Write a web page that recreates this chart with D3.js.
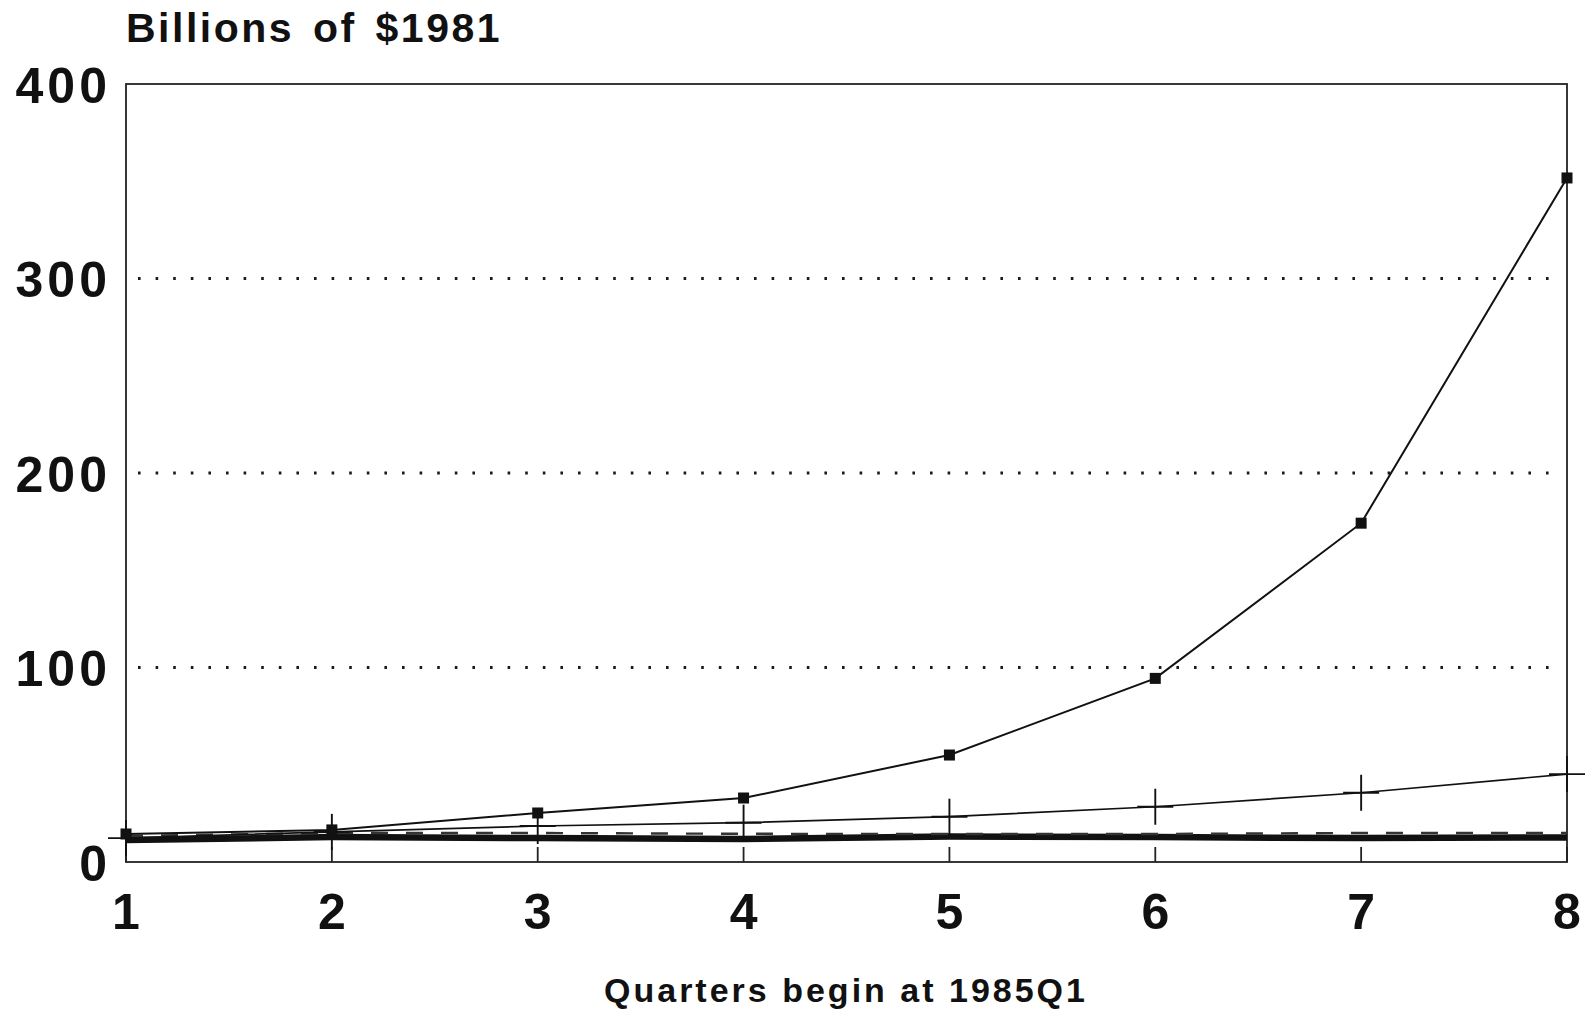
<!DOCTYPE html>
<html>
<head>
<meta charset="utf-8">
<script src="https://cdn.jsdelivr.net/npm/d3@7"></script>
<style>
  html, body { margin: 0; padding: 0; background: #fff; }
  svg { display: block; }
  text { font-family: "Liberation Sans", Arial, Helvetica, sans-serif; font-weight: bold; fill: #111; }
</style>
</head>
<body>
<svg id="chart" width="1590" height="1013"></svg>
<script>
// Quarters counted from 1985Q1
const quarters = [1, 2, 3, 4, 5, 6, 7, 8];

// Billions of 1981 dollars, one array per series
const seriesSquares = [14.4, 16.5, 25.2, 32.9, 55.0, 94.4, 174.2, 351.7];
const seriesCross   = [12.3, 15.5, 18.5, 20.2, 23.3, 28.4, 35.6, 45.2];
const seriesThick   = [11.3, 12.8, 12.3, 11.8, 13.1, 12.8, 12.3, 12.6];
const seriesDashed  = [13.4, 14.9, 14.9, 14.5, 14.4, 14.4, 14.9, 15.0];

const yTickValues = [0, 100, 200, 300, 400];
const gridValues  = [100, 200, 300];

const yTitle = "Billions of $1981";
const xTitle = "Quarters begin at 1985Q1";

const svg = d3.select("#chart");
const plotLeft = 126, plotRight = 1567, plotTop = 84, plotBottom = 862;

const x = d3.scaleLinear().domain([1, 8]).range([plotLeft, plotRight]);
const y = d3.scaleLinear().domain([0, 400]).range([plotBottom, plotTop]);

const pts = vals => quarters.map((q, i) => [q, vals[i]]);
const line = d3.line().x(d => x(d[0])).y(d => y(d[1]));

// dotted horizontal grid
svg.append("g").selectAll("line").data(gridValues).join("line")
  .attr("x1", plotLeft + 12).attr("x2", plotRight - 6)
  .attr("y1", d => y(d)).attr("y2", d => y(d))
  .attr("stroke", "#1a1a1a").attr("stroke-width", 2.8)
  .attr("stroke-dasharray", "2.6 15");

// plot frame
svg.append("rect")
  .attr("x", plotLeft).attr("y", plotTop)
  .attr("width", plotRight - plotLeft).attr("height", plotBottom - plotTop)
  .attr("fill", "none").attr("stroke", "#222").attr("stroke-width", 1.8);

// x ticks rising from the bottom edge
svg.append("g").selectAll("line").data(quarters).join("line")
  .attr("x1", d => x(d)).attr("x2", d => x(d))
  .attr("y1", plotBottom).attr("y2", plotBottom - 15)
  .attr("stroke", "#222").attr("stroke-width", 1.8);

// series lines
svg.append("path").attr("d", line(pts(seriesThick)))
  .attr("fill", "none").attr("stroke", "#111").attr("stroke-width", 6.5);

svg.append("path").attr("d", line(pts(seriesDashed)))
  .attr("fill", "none").attr("stroke", "#333").attr("stroke-width", 2.4)
  .attr("stroke-dasharray", "17 18");

svg.append("path").attr("d", line(pts(seriesCross)))
  .attr("fill", "none").attr("stroke", "#111").attr("stroke-width", 1.7);

svg.append("path").attr("d", line(pts(seriesSquares)))
  .attr("fill", "none").attr("stroke", "#111").attr("stroke-width", 2);

// "+" markers
const cross = svg.append("g").attr("stroke", "#111").attr("stroke-width", 1.9);
cross.selectAll("line.v").data(pts(seriesCross)).join("line").attr("class", "v")
  .attr("x1", d => x(d[0])).attr("x2", d => x(d[0]))
  .attr("y1", d => y(d[1]) - 18).attr("y2", d => y(d[1]) + 18);
cross.selectAll("line.h").data(pts(seriesCross)).join("line").attr("class", "h")
  .attr("x1", d => x(d[0]) - 18).attr("x2", d => x(d[0]) + 18)
  .attr("y1", d => y(d[1])).attr("y2", d => y(d[1]));

// square markers
svg.append("g").selectAll("rect").data(pts(seriesSquares)).join("rect")
  .attr("x", d => x(d[0]) - 5.5).attr("y", d => y(d[1]) - 5.5)
  .attr("width", 11).attr("height", 11).attr("fill", "#111");

// y tick labels
svg.append("g").selectAll("text").data(yTickValues).join("text")
  .attr("x", 111).attr("y", d => y(d) + 18.5)
  .attr("text-anchor", "end")
  .attr("font-size", 50).attr("letter-spacing", 4)
  .text(d => d);

// x tick labels
svg.append("g").selectAll("text").data(quarters).join("text")
  .attr("x", d => x(d)).attr("y", 929)
  .attr("text-anchor", "middle")
  .attr("font-size", 50)
  .text(d => d);

// titles
svg.append("text")
  .attr("x", 126).attr("y", 42)
  .attr("font-size", 41).attr("letter-spacing", 2.5).attr("word-spacing", 5)
  .text(yTitle);

svg.append("text")
  .attr("x", 846).attr("y", 1002)
  .attr("text-anchor", "middle")
  .attr("font-size", 34).attr("letter-spacing", 3)
  .text(xTitle);
</script>
</body>
</html>
